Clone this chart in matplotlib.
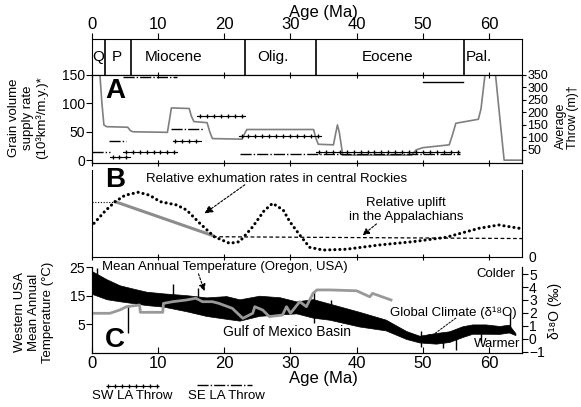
import numpy as np
import matplotlib.pyplot as plt
from matplotlib.lines import Line2D

plt.rcParams['font.family'] = ['Liberation Sans', 'DejaVu Sans']

# geologic epochs
epoch_names = ['Q', 'P', 'Miocene', 'Olig.', 'Eocene', 'Pal.']
epoch_label_age = [0.95, 3.7, 12.4, 27.3, 44.7, 58.4]
epoch_bounds = [1.9, 5.9, 23.2, 33.9, 56.3]

# panel A: grain volume supply rate (10^3 km3/m.y.)
grain_age = [0, 1.2, 1.5, 1.8, 2.2, 5.4, 5.8, 6.2, 11.4, 11.7, 12.0, 14.7, 15.0, 15.4,
             17.4, 17.8, 18.2, 22.7, 23.0, 23.4, 33.5, 33.8, 34.2, 36.5, 36.85, 37.1,
             37.4, 37.9, 48.3, 49.0, 50.0, 54.0, 54.5, 55.0, 58.4, 58.8, 59.4, 61.0,
             61.6, 62.3, 65]
grain_rate = [150, 150, 100, 62, 59, 58, 52, 50, 49, 70, 92, 91, 78, 68,
              66, 50, 38, 37, 45, 54, 54, 40, 28, 27, 48, 62,
              48, 9, 9, 18, 22, 27, 45, 65, 72, 90, 150, 150,
              80, 0, 0]

# average throw segments (start Ma, end Ma, throw m)
sw_throw = [(2.7, 5.7, 22), (4.7, 12.8, 40), (12.2, 16.5, 84), (15.9, 23.1, 184),
            (22.2, 34.6, 107), (33.9, 55.5, 43)]
se_throw = [(0, 2.7, 42), (2.5, 5.2, 87), (4.7, 12.8, 341), (12.0, 16.8, 135),
            (22.3, 55.6, 35)]
other_throw = [(50.1, 56.1, 321)]

# panel B: relative exhumation (central Rockies)
exh_age = [0.3, 2.0, 3.5, 5.0, 7.0, 8.7, 10.3, 12.8, 14.3, 16.3, 18.5, 20.8, 22.3,
           24.3, 26.0, 27.3, 28.9, 29.9, 31.4, 32.9, 34.9, 38.4, 43.4, 48.5,
           53.5, 58.5, 61.5, 64.6]
exh_rate = [3.87, 5.3, 6.36, 7.1, 7.44, 7.1, 6.36, 5.98, 5.40, 3.87, 2.33, 1.57, 1.76,
            3.48, 5.3, 6.17, 5.40, 4.06, 2.53, 1.11, 0.80, 0.89, 1.38, 1.76,
            2.26, 3.30, 3.68, 3.30]
gray_b_age = [3.5, 18.3]
gray_b_val = [6.36, 2.45]
early_b_age = [0, 3.5]
early_b_val = [6.36, 6.36]
appal_age = [18.3, 65]
appal_val = [2.33, 2.12]

# panel C: global d18O envelope (permil)
d18o_age = [0, 2.2, 4.2, 6.2, 8.2, 10.8, 14.3, 17.3, 20.3, 22.3, 25.3, 28.4, 30.9,
            33.4, 35.9, 40.4, 44.4, 47.5, 49.5, 52, 54, 56, 57.5, 59.5, 61.6, 63, 64]
d18o_top = [5.22, 4.60, 4.13, 3.88, 3.64, 3.51, 3.37, 3.20, 3.30, 3.05, 3.33, 3.21, 2.89,
            3.07, 2.72, 2.09, 1.49, 0.61, 0.25, 0.46, 0.59, 0.98, 1.12, 1.12, 1.0, 1.1, 0.45]
d18o_bot = [3.47, 3.06, 2.90, 2.76, 2.61, 2.49, 2.13, 1.77, 1.55, 1.41, 1.78, 1.89, 1.97,
            1.64, 1.48, 0.96, 0.66, 0.0, -0.27, -0.36, -0.23, 0.15, 0.40, 0.40, 0.39, 0.5, 0.3]
spike_age = [0.8, 5.5, 12.3, 16.0, 33.6, 36.2, 49.8, 53.0, 55.0, 58.8, 63.2]
spike_lo = [4.0, 0.44, 2.6, 2.0, 1.2, 2.0, -0.6, -0.7, -0.85, -0.2, 0.8]
spike_hi = [5.5, 2.62, 4.2, 3.9, 3.6, 3.0, 0.6, 0.3, 0.2, 0.9, 2.0]

# Oregon mean annual temperature (deg C)
mat_age = [0, 2.7, 4.2, 5.2, 7.2, 7.3, 10.7, 10.8, 12.2, 14.3, 15.7, 16.7, 18.2, 19.2,
           21.2, 22.8, 24.3, 24.6, 25.8, 26.8, 28.8, 29.4, 30.0, 31.4, 32.4, 33.4,
           34.0, 36.0, 40.0, 42.0, 42.4, 45.2]
mat_temp = [8.85, 8.85, 10.0, 11.15, 11.75, 9.2, 9.2, 12.3, 12.9, 13.5, 14.1, 12.9, 12.9, 12.3,
            10.6, 7.1, 8.85, 11.15, 10.0, 7.7, 8.25, 11.15, 8.85, 12.9, 11.15, 15.8,
            17.0, 17.0, 16.7, 14.6, 15.8, 13.5]

W, H = 581, 407


def fx(x):
    return x / W


def fy(y):
    return 1 - y / H


fig = plt.figure(figsize=(5.81, 4.07), dpi=100)


def panel(top, bottom):
    ax = fig.add_axes([fx(92), fy(bottom), (522 - 92) / W, (bottom - top) / H])
    ax.set_xlim(0, 65)
    ax.set_xticks(range(0, 61, 10))
    return ax


# ---- epoch strip ----
axE = panel(39, 75)
axE.set_ylim(0, 1)
axE.set_yticks([])
axE.xaxis.tick_top()
axE.tick_params(axis='x', direction='out', length=4, labelsize=12, pad=1)
for b in epoch_bounds:
    axE.axvline(b, color='black', lw=1.2)
for name, xa in zip(epoch_names, epoch_label_age):
    axE.text(xa, 0.5, name, ha='center', va='center', fontsize=11)
fig.text(fx(323), fy(12), 'Age (Ma)', ha='center', va='center', fontsize=12)

# ---- panel A ----
axA = panel(75, 163)
axA.set_ylim(-5, 150)
axA.set_yticks([0, 50, 100, 150])
axA.tick_params(axis='y', direction='out', length=4, labelsize=10, pad=1)
axA.tick_params(axis='x', direction='inout', length=5, top=True, labelbottom=False)
axA.plot(grain_age, grain_rate, color='#7f7f7f', lw=1.2)
axAr = axA.twinx()
axAr.set_ylim(-2, 350)
axAr.set_yticks(range(50, 351, 50))
axAr.tick_params(axis='y', direction='out', length=3, labelsize=9, pad=1)
for x0, x1, y in sw_throw:
    axAr.plot([x0, x1], [y, y], color='black', lw=0.8)
    xs = np.arange(x0 + 0.4, x1, 1.05)
    axAr.plot(xs, np.full(len(xs), y), '+', color='black', ms=3.5, mew=0.9)
for x0, x1, y in se_throw:
    axAr.plot([x0, x1], [y, y], color='black', lw=1.0, ls=(0, (8, 1.5, 1, 1.5)))
for x0, x1, y in other_throw:
    axAr.plot([x0, x1], [y, y], color='black', lw=1.0)
axA.text(3.5, 122, 'A', fontsize=20, fontweight='bold', ha='center', va='center')
fig.text(fx(28), fy(118), 'Grain volume\nsupply rate\n(10³km³/m.y.)*', rotation=90,
         ha='center', va='center', fontsize=9.5, linespacing=1.15)
fig.text(fx(567), fy(117), 'Average\nThrow (m)†', rotation=90, ha='center', va='center',
         fontsize=9, multialignment='left', linespacing=1.0)

# ---- panel B ----
axB = panel(170, 257)
axB.set_ylim(0, 10)
axB.set_yticks([])
axB.spines['top'].set_visible(False)
axB.tick_params(axis='x', direction='inout', length=5, labelbottom=False)
axB.plot(early_b_age, early_b_val, color='black', lw=0.8, ls=(0, (1, 1.5)))
axB.plot(appal_age, appal_val, color='black', lw=0.9, ls=(0, (3, 2)))
axB.plot(gray_b_age, gray_b_val, color='#8c8c8c', lw=2.2)
axB.plot(exh_age, exh_rate, color='black', lw=2.2, ls=(0, (0.05, 1.6)),
         dash_capstyle='round')
axB.text(3.5, 8.9, 'B', fontsize=20, fontweight='bold', ha='center', va='center')
axB.text(27.9, 8.95, 'Relative exhumation rates in central Rockies', ha='center',
         va='center', fontsize=9.5)
axB.annotate('', xy=(17.0, 5.0), xytext=(23.1, 8.3),
             arrowprops=dict(arrowstyle='-|>', color='black', lw=0.8, ls=(0, (2, 1.5)),
                             mutation_scale=12, shrinkA=0, shrinkB=0))
axB.text(47.5, 5.4, 'Relative uplift\nin the Appalachians', ha='center', va='center',
         fontsize=9.5, linespacing=1.15)
axB.annotate('', xy=(40.9, 2.5), xytext=(43.0, 3.8),
             arrowprops=dict(arrowstyle='-|>', color='black', lw=0.8, ls=(0, (2, 1.5)),
                             mutation_scale=10, shrinkA=0, shrinkB=0))
fig.text(fx(532), fy(258), '0', ha='center', va='center', fontsize=10)

# ---- panel C ----
axC = panel(267, 353)
axC.set_ylim(-5, 25)
axC.set_yticks([5, 15, 25])
axC.spines['top'].set_visible(False)
axC.tick_params(axis='y', direction='out', length=4, labelsize=10, pad=1)
axC.tick_params(axis='x', direction='in', length=4, labelsize=12, pad=2)
axCr = axC.twinx()
axCr.set_ylim(-1.08, 5.54)
axCr.set_yticks(range(-1, 6))
axCr.spines['top'].set_visible(False)
axCr.tick_params(axis='y', direction='out', length=4, labelsize=10, pad=1)
axCr.fill_between(d18o_age, d18o_bot, d18o_top, color='black', lw=0.5)
axCr.vlines(spike_age, spike_lo, spike_hi, color='black', lw=1.0)
axCr.set_zorder(axC.get_zorder() - 1)
axC.patch.set_visible(False)
axC.plot(mat_age, mat_temp, color='#999999', lw=2.0)
axC.text(3.5, -0.5, 'C', fontsize=20, fontweight='bold', ha='center', va='center')
axC.text(1.5, 25, 'Mean Annual Temperature (Oregon, USA)', ha='left', va='center',
         fontsize=9.5)
axC.annotate('', xy=(17.0, 16.6), xytext=(16.1, 22.6),
             arrowprops=dict(arrowstyle='-|>', color='black', lw=0.8, ls=(0, (2, 1.5)),
                             mutation_scale=10, shrinkA=0, shrinkB=0))
axC.text(19.8, 2.3, 'Gulf of Mexico Basin', ha='left', va='center', fontsize=10)
axCr.text(45.0, 2.0, 'Global Climate (δ¹⁸O)', ha='left', va='center', fontsize=9.5)
axCr.annotate('', xy=(50.5, -0.08), xytext=(55.0, 1.61),
              arrowprops=dict(arrowstyle='-|>', color='black', lw=0.7, ls=(0, (2, 1.5)),
                              mutation_scale=9, shrinkA=0, shrinkB=0))
axCr.text(64.0, 5.0, 'Colder', ha='right', va='center', fontsize=9.5)
axCr.text(64.8, -0.4, 'Warmer', ha='right', va='center', fontsize=9.5)
fig.text(fx(323), fy(379), 'Age (Ma)', ha='center', va='center', fontsize=12)
fig.text(fx(34), fy(312), 'Western USA\nMean Annual\nTemperature (°C)', rotation=90,
         ha='center', va='center', fontsize=9.5, linespacing=1.2)
fig.text(fx(555), fy(311), 'δ¹⁸O (‰)', rotation=90, ha='center', va='center',
         fontsize=10)

# ---- bottom key ----
fig.text(fx(132), fy(396), 'SW LA Throw', ha='center', va='center', fontsize=9.5)
fig.text(fx(226), fy(396), 'SE LA Throw', ha='center', va='center', fontsize=9.5)
fig.add_artist(Line2D([fx(107), fx(158)], [fy(386), fy(386)], color='black', lw=0.8,
                      transform=fig.transFigure))
key_x = np.linspace(fx(108), fx(157), 8)
fig.add_artist(Line2D(key_x, np.full(8, fy(386)), color='black', lw=0, marker='+',
                      ms=3.5, mew=0.9, transform=fig.transFigure))
fig.add_artist(Line2D([fx(197), fx(252)], [fy(385), fy(385)], color='black', lw=1.0,
                      ls=(0, (8, 1.5, 1, 1.5)), transform=fig.transFigure))

fig.savefig('out.png', dpi=100)
